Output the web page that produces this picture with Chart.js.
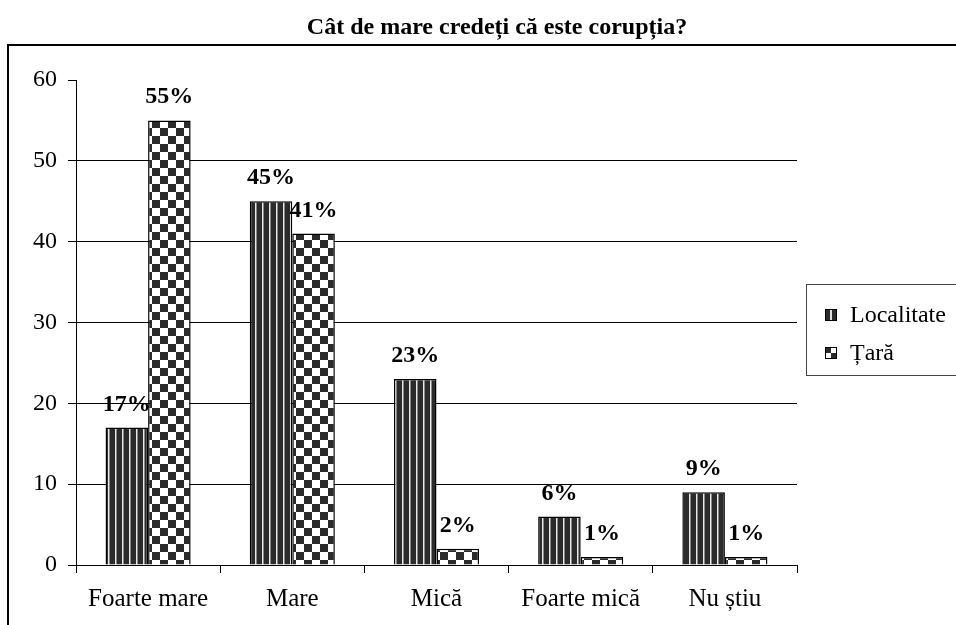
<!DOCTYPE html>
<html>
<head>
<meta charset="utf-8">
<script src="https://cdn.jsdelivr.net/npm/chart.js@4.4.0/dist/chart.umd.min.js"></script>
<style>
  body { margin: 0; background: #fff; }
  #wrap { position: relative; width: 956px; height: 625px; overflow: hidden; font-family: "Liberation Serif", "Times New Roman", serif; color: #000; }
  #c { position: absolute; left: 0; top: 0; }
  #frame { position: absolute; left: 7px; top: 44px; width: 980px; height: 620px; border-top: 2px solid #000; border-left: 2px solid #000; }
  #title { position: absolute; left: 0; width: 994px; top: 12px; text-align: center; font-weight: bold; font-size: 24px; line-height: 28px; }
  #legend { position: absolute; left: 806px; top: 284px; width: 170px; height: 90px; border: 1px solid #444; }
  .item { position: absolute; left: 18px; font-size: 24px; line-height: 28px; }
  .item canvas { position: absolute; left: 0; top: 9px; }
  .item span { position: absolute; left: 25px; top: 0; white-space: nowrap; }
</style>
</head>
<body>
<div id="wrap">
  <canvas id="c" width="956" height="625"></canvas>
  <div id="frame"></div>
  <div id="title">Cât de mare credeți că este corupția?</div>
  <div id="legend">
    <div class="item" style="top:15px"><canvas id="sw0" width="12" height="12"></canvas><span>Localitate</span></div>
    <div class="item" style="top:53px"><canvas id="sw1" width="12" height="12"></canvas><span>Țară</span></div>
  </div>
</div>
<script>
// data (percent)
var categories = ['Foarte mare', 'Mare', 'Mică', 'Foarte mică', 'Nu știu'];
var seriesNames = ['Localitate', 'Țară'];
var localitate = [17, 45, 23, 6, 9];
var tara = [55, 41, 2, 1, 1];
var yTicks = [0, 10, 20, 30, 40, 50, 60];

var dark = '#2b2b2b';

function stripes() {
  var c = document.createElement('canvas');
  c.width = 7; c.height = 8;
  var x = c.getContext('2d');
  x.fillStyle = dark; x.fillRect(0, 0, 7, 8);
  x.fillStyle = '#e8e8e8'; x.fillRect(3, 0, 1.5, 8);
  return c;
}
function checker() {
  var c = document.createElement('canvas');
  c.width = 16; c.height = 16;
  var x = c.getContext('2d');
  x.fillStyle = '#fff'; x.fillRect(0, 0, 16, 16);
  x.fillStyle = dark; x.fillRect(0, 0, 8, 8); x.fillRect(8, 8, 8, 8);
  return c;
}

var ctx = document.getElementById('c').getContext('2d');
var stripePat = ctx.createPattern(stripes(), 'repeat');
var checkPat = ctx.createPattern(checker(), 'repeat');

// legend swatches
var s0 = document.getElementById('sw0').getContext('2d');
s0.fillStyle = '#000'; s0.fillRect(0, 0, 12, 12);
s0.fillStyle = '#2b2b2b'; s0.fillRect(1, 1, 10, 10);
s0.fillStyle = '#ddd'; s0.fillRect(5, 1, 2, 10);
var s1 = document.getElementById('sw1').getContext('2d');
s1.fillStyle = '#000'; s1.fillRect(0, 0, 12, 12);
s1.fillStyle = '#fff'; s1.fillRect(1, 1, 10, 10);
s1.fillStyle = '#2b2b2b'; s1.fillRect(1, 1, 5, 5); s1.fillRect(6, 6, 5, 5);

var valueLabels = {
  id: 'valueLabels',
  afterDatasetsDraw: function (chart) {
    var c = chart.ctx;
    c.save();
    c.font = 'bold 24px "Liberation Serif"';
    c.fillStyle = '#000';
    c.textAlign = 'center';
    c.textBaseline = 'alphabetic';
    chart.data.datasets.forEach(function (ds, i) {
      chart.getDatasetMeta(i).data.forEach(function (bar, j) {
        c.fillText(ds.data[j] + '%', bar.x, bar.y - 17);
      });
    });
    c.restore();
  }
};

new Chart(ctx, {
  type: 'bar',
  data: {
    labels: categories,
    datasets: [{
      label: seriesNames[0],
      data: localitate,
      backgroundColor: stripePat,
      borderColor: '#000',
      borderWidth: 1.5,
      categoryPercentage: 0.59,
      barPercentage: 1.0
    }, {
      label: seriesNames[1],
      data: tara,
      backgroundColor: checkPat,
      borderColor: '#000',
      borderWidth: 1.5,
      categoryPercentage: 0.59,
      barPercentage: 1.0
    }]
  },
  options: {
    responsive: false,
    animation: false,
    layout: { padding: { left: 22, right: 159, top: 80, bottom: 0 } },
    plugins: { legend: { display: false }, title: { display: false }, tooltip: { enabled: false } },
    scales: {
      x: {
        grid: { drawOnChartArea: false, color: '#000', tickLength: 8, offset: true },
        border: { color: '#000', width: 1 },
        ticks: { color: '#000', padding: 11, font: { family: 'Liberation Serif', size: 25 } }
      },
      y: {
        min: yTicks[0],
        max: yTicks[yTicks.length - 1],
        afterBuildTicks: function (axis) { axis.ticks = yTicks.map(function (v) { return { value: v }; }); },
        grid: {
          color: function (c) { return c.tick && c.tick.value === 60 ? 'rgba(0,0,0,0)' : '#000'; },
          tickColor: '#000',
          tickLength: 8,
          lineWidth: 1
        },
        border: { color: '#000', width: 1 },
        ticks: { color: '#000', padding: 11, font: { family: 'Liberation Serif', size: 24 } }
      }
    }
  },
  plugins: [valueLabels]
});
</script>
</body>
</html>
